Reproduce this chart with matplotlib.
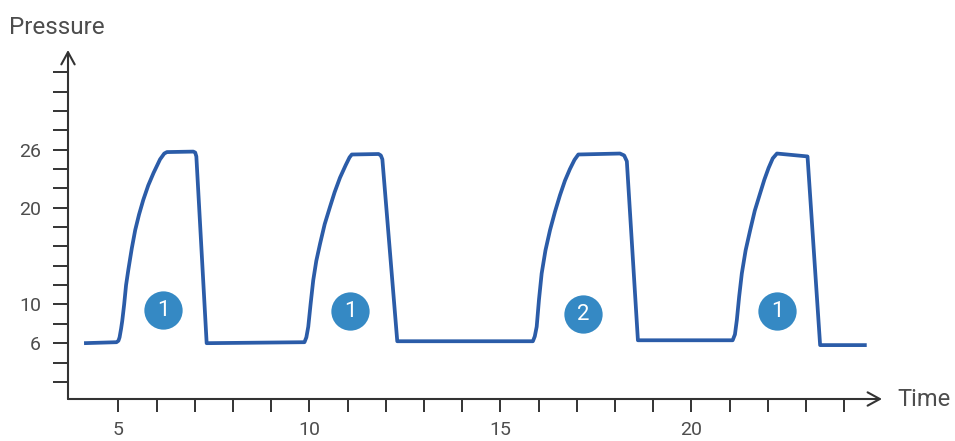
import matplotlib
matplotlib.use('Agg')
import matplotlib.pyplot as plt

# Pressure trace
time = [4.10, 4.95, 5.00, 5.03, 5.07, 5.10, 5.15, 5.20, 5.26, 5.35, 5.44, 5.54, 5.65,
        5.78, 5.92, 6.09, 6.20, 6.27, 6.96, 7.01, 7.04, 7.31,
        9.87, 9.92, 9.97, 10.03, 10.10, 10.18, 10.28, 10.40, 10.54, 10.66, 10.80,
        10.95, 11.05, 11.11, 11.81, 11.87, 11.91, 12.30,
        15.85, 15.90, 15.95, 16.01, 16.08, 16.18, 16.30, 16.43, 16.56, 16.69, 16.82,
        16.94, 17.04, 18.13, 18.24, 18.31, 18.60,
        21.08, 21.14, 21.19, 21.25, 21.32, 21.42, 21.54, 21.66, 21.80, 21.91, 22.02,
        22.13, 22.24, 23.04, 23.37, 24.59]
pressure = [6.0, 6.1, 6.25, 6.6, 7.5, 8.3, 10.0, 12.0, 13.6, 15.8, 17.7, 19.3, 20.8,
            22.3, 23.6, 25.0, 25.6, 25.75, 25.8, 25.7, 25.3, 6.0,
            6.1, 6.6, 7.7, 10.0, 12.5, 14.5, 16.3, 18.3, 20.1, 21.6, 23.1,
            24.4, 25.2, 25.5, 25.55, 25.4, 25.0, 6.2,
            6.2, 6.7, 7.7, 10.5, 13.2, 15.6, 17.7, 19.6, 21.3, 22.8, 24.0,
            24.95, 25.5, 25.6, 25.4, 24.8, 6.3,
            6.3, 6.9, 8.4, 10.8, 13.2, 15.6, 17.7, 19.7, 21.5, 22.9, 24.1,
            25.1, 25.6, 25.3, 5.8, 5.8]

# numbered badges
badge_x = [6.18, 11.07, 17.16, 22.24]
badge_y = [9.4, 9.3, 9.0, 9.3]
badge_txt = ['1', '1', '2', '1']

xticks = list(range(5, 25))
xlabels = ['5', '10', '15', '20']
yticks = list(range(2, 35, 2))
ylabels = ['6', '10', '20', '26']

axis_col = '#333333'
text_col = '#4d4d4d'
line_col = '#2b5ca8'
badge_col = '#3589c4'

plt.rcParams['font.family'] = ['Roboto', 'DejaVu Sans']

fig = plt.figure(figsize=(9.55, 4.41), dpi=100)
ax = fig.add_axes([68/955, 42/441, (882-68)/955, (399-50)/441])
ax.set_xlim(3.68, 24.99)
ax.set_ylim(0.23, 36.3)

ax.plot(time, pressure, color=line_col, lw=2.7, solid_joinstyle='round',
        solid_capstyle='butt')

ax.scatter(badge_x, badge_y, s=760, color=badge_col, zorder=3, linewidths=0)
for bx, by, bt in zip(badge_x, badge_y, badge_txt):
    ax.text(bx, by, bt, color='white', fontsize=16, ha='center', va='center',
            zorder=4)

for s in ax.spines.values():
    s.set_visible(False)

ax.set_xticks(xticks)
ax.set_xticklabels([str(v) if str(v) in xlabels else '' for v in xticks])
ax.set_yticks(yticks)
ax.set_yticklabels([str(v) if str(v) in ylabels else '' for v in yticks])
ax.tick_params(axis='x', direction='out', length=9.5, width=1.4, color=axis_col,
               labelcolor=text_col, labelsize=14, pad=6.5)
ax.tick_params(axis='y', direction='out', length=10.5, width=1.4, color=axis_col,
               labelcolor=text_col, labelsize=14, pad=9)

arrow = dict(arrowstyle='->,head_length=0.55,head_width=0.3', lw=1.5,
             color=axis_col, mutation_scale=16, shrinkA=0, shrinkB=0)
ax.annotate('', xy=(1, 0), xytext=(0, 0), xycoords='axes fraction',
            textcoords='axes fraction', arrowprops=arrow, annotation_clip=False)
ax.annotate('', xy=(0, 1), xytext=(0, 0), xycoords='axes fraction',
            textcoords='axes fraction', arrowprops=arrow, annotation_clip=False)

fig.text(9/955, 1 - 27/441, 'Pressure', fontsize=17.5, color=text_col,
         ha='left', va='center')
fig.text(897/955, 1 - 400/441, 'Time', fontsize=17, color=text_col,
         ha='left', va='center')

fig.savefig('out.png', dpi=100, facecolor='white')
